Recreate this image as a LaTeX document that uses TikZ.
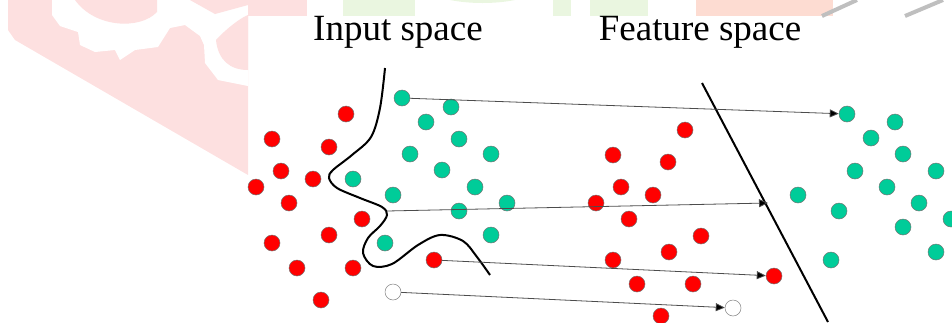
\documentclass[tikz,border=0pt]{standalone}
\usepackage{fontspec}
\setmainfont{Liberation Serif}
\usetikzlibrary{arrows.meta}
\definecolor{dotred}{RGB}{255,0,0}
\definecolor{dotgreen}{RGB}{0,204,153}
\definecolor{wmpink}{RGB}{253,224,224}
\definecolor{wmgreen}{RGB}{234,246,224}
\definecolor{wmsalmon}{RGB}{253,220,210}
\tikzset{
  dotbase/.style={circle,inner sep=0pt,minimum size=16pt,draw=black!55,line width=0.5pt},
  rd/.style={dotbase,fill=dotred},
  gn/.style={dotbase,fill=dotgreen},
  wt/.style={dotbase,fill=white,draw=black!50},
  maparrow/.style={draw=black!70,line width=0.8pt,-{Triangle[length=9pt,width=8pt,fill=black]}},
  boundary/.style={line width=2pt,black},
  title/.style={font=\fontsize{37}{41}\selectfont,anchor=base}
}
\begin{document}
\begin{tikzpicture}[x=1pt,y=-1pt]
\useasboundingbox (0,0) rectangle (952,322);
% watermark background
\fill[wmpink] (8,0) -- (248,0) -- (248,175) -- (15,40) -- (8,30) -- cycle;
\fill[white] (52,0) -- (52,15) -- (60,26) -- (78,32) -- (80,45) -- (95,52) -- (115,50) -- (120,60) -- (135,50) -- (158,47) -- (170,28) -- (185,25) -- (200,36) -- (204,45) -- (205,63) -- (218,80) -- (248,86) -- (248,0) -- cycle;
\fill[wmpink] (75,0) .. controls (95,28) and (140,30) .. (157,12) -- (157,0) -- cycle;
\fill[wmpink] (216,40) .. controls (225,30) and (240,18) .. (248,15) -- (248,70) .. controls (230,70) and (218,60) .. (216,40) -- cycle;
\fill[wmpink] (190,0) -- (215,14) -- (248,5) -- (248,0) -- cycle;
\fill[wmpink] (248,0) rectangle (307,16);
\fill[wmgreen] (343,0) rectangle (415,16);
\fill[wmgreen] (450,0) .. controls (470,4) and (495,4) .. (515,0) -- cycle;
\fill[wmgreen] (553,0) rectangle (571,16);
\fill[wmgreen] (590,0) rectangle (648,16);
\fill[wmsalmon] (696,0) rectangle (833,16);
\draw[black!25,line width=4pt] (822,16) -- (857,0);
\draw[black!25,line width=4pt] (905,16) -- (943,0);
% titles
\node[title] (t1) at (398,40) {Input space};
\node[title] (t2) at (700,40) {Feature space};
% input space boundary curve
\draw[boundary] plot[smooth,tension=0.55] coordinates {(385,68) (380,108) (371,137) (352,155) (333,170) (329,178) (337,188) (360,198) (382,207) (387,215) (380,226) (368,238) (363,253) (373,266) (392,264) (418,245) (440,235) (463,241) (477,257) (490,275)};
% feature space hyperplane
\draw[boundary] (702,83) -- (828,322);
% input red
\node[rd] (r1) at (346,114) {};
\node[rd] (r2) at (272,139) {};
\node[rd] (r3) at (329,147) {};
\node[rd] (r4) at (281,171) {};
\node[rd] (r5) at (313,179) {};
\node[rd] (r6) at (256,187) {};
\node[rd] (r7) at (289,203) {};
\node[rd] (r8) at (362,219) {};
\node[rd] (r9) at (329,235) {};
\node[rd] (r10) at (272,243) {};
\node[rd] (r11) at (297,268) {};
\node[rd] (r12) at (353,268) {};
\node[rd] (r13) at (321,300) {};
\node[rd] (r14) at (434,260) {};
% input green
\node[gn] (g1) at (402,98) {};
\node[gn] (g2) at (451,107) {};
\node[gn] (g3) at (426,122) {};
\node[gn] (g4) at (459,139) {};
\node[gn] (g5) at (410,154) {};
\node[gn] (g6) at (491,154) {};
\node[gn] (g7) at (442,170) {};
\node[gn] (g8) at (353,179) {};
\node[gn] (g9) at (475,187) {};
\node[gn] (g10) at (393,195) {};
\node[gn] (g11) at (507,203) {};
\node[gn] (g12) at (459,211) {};
\node[gn] (g13) at (385,243) {};
\node[gn] (g14) at (491,235) {};
\node[wt] (w1) at (393,292) {};
% feature red
\node[rd] (fr1) at (685,130) {};
\node[rd] (fr2) at (613,155) {};
\node[rd] (fr3) at (668,162) {};
\node[rd] (fr4) at (621,187) {};
\node[rd] (fr5) at (653,195) {};
\node[rd] (fr6) at (596,203) {};
\node[rd] (fr7) at (629,219) {};
\node[rd] (fr8) at (701,236) {};
\node[rd] (fr9) at (669,252) {};
\node[rd] (fr10) at (613,260) {};
\node[rd] (fr11) at (637,284) {};
\node[rd] (fr12) at (693,284) {};
\node[rd] (fr13) at (661,316) {};
\node[rd] (fr14) at (774,276) {};
% feature green
\node[gn] (fg1) at (847,114) {};
\node[gn] (fg2) at (895,122) {};
\node[gn] (fg3) at (871,138) {};
\node[gn] (fg4) at (903,154) {};
\node[gn] (fg5) at (855,171) {};
\node[gn] (fg6) at (936,171) {};
\node[gn] (fg7) at (798,195) {};
\node[gn] (fg8) at (887,187) {};
\node[gn] (fg9) at (919,203) {};
\node[gn] (fg10) at (839,211) {};
\node[gn] (fg11) at (903,227) {};
\node[gn] (fg12) at (951,219) {};
\node[gn] (fg13) at (936,252) {};
\node[gn] (fg14) at (831,260) {};
\node[wt] (w2) at (733,308) {};
% mapping arrows
\coordinate (cb) at (387,211);
\coordinate (hp) at (768,203);
\draw[maparrow] (g1) -- (fg1);
\draw[maparrow] (cb) -- (hp);
\draw[maparrow] (r14) -- (fr14);
\draw[maparrow] (w1) -- (w2);
\end{tikzpicture}
\end{document}
